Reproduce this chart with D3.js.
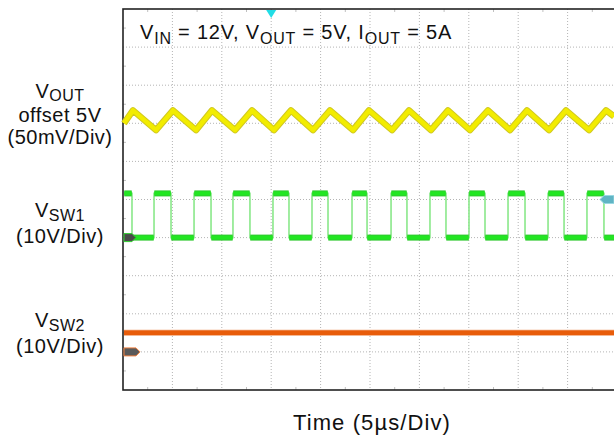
<!DOCTYPE html>
<html><head><meta charset="utf-8">
<script src="https://cdn.jsdelivr.net/npm/d3@7"></script>
<style>body{margin:0;background:#fff} svg{display:block}</style>
</head><body><svg id="c" width="614" height="444"></svg>
<script>
// ---------- data (read from the scope capture) ----------
// time axis: 5 µs/div, 10 divisions
const timeDomain = [0, 50];
const gridDivs = [1, 2, 3, 4, 5, 6, 7, 8, 9];
// VOUT ripple (mV, relative to 5 V offset), vertex times (µs)
const voutTimes  = [0.1, 1.01, 3.34, 5.06, 7.39, 9.01, 11.34, 13.06, 15.28, 17.00, 19.23, 20.95, 23.28, 24.90, 27.23, 28.95, 31.17, 32.89, 35.12, 36.94, 39.17, 40.89, 43.12, 44.84, 47.17, 48.89, 49.7];
const voutRipple = [0, 17, -9, 17, -9, 17, -9, 17, -9, 17, -9, 17, -9, 17, -9, 17, -9, 17, -9, 17, -9, 17, -9, 17, -9, 17, 9];
// VSW1 switching edges (µs) and levels (V)
const sw1Rise = [3.14, 7.19, 11.13, 15.18, 19.13, 23.18, 27.13, 31.07, 35.02, 38.97, 43.02, 46.96];
const sw1Fall = [0.91, 4.86, 8.91, 12.85, 16.80, 20.75, 24.70, 28.74, 32.69, 36.64, 40.69, 44.64, 48.68];
const sw1Levels = [0, 11.6];
// VSW2 level (V)
const sw2Times = [0.1, 50];
const sw2Values = [5, 5];
// channel settings: volts/div and reference position (div from bottom)
const ch1 = {scale: 50, refDiv: 7};   // mV/div
const ch2 = {scale: 10, refDiv: 4};
const ch3 = {scale: 10, refDiv: 1};
const triggerTime = 15;  // µs
const triggerLevel = 10; // V on ch2

// ---------- layout ----------
const svg = d3.select("#c");
const L = 123, R = 617, T = 9, B = 390;
const x = d3.scaleLinear().domain(timeDomain).range([L, R]);
const y = d3.scaleLinear().domain([0, 10]).range([B, T]);
const xd = d3.scaleLinear().domain([0, 10]).range([L, R]);
const font = "'Liberation Sans', Arial, sans-serif";

// grid
const g = svg.append("g");
g.selectAll(".vg").data(gridDivs).enter().append("line")
  .attr("x1", d => xd(d)).attr("x2", d => xd(d)).attr("y1", T).attr("y2", B)
  .attr("stroke", "#b4b4b4").attr("stroke-width", 1).attr("stroke-dasharray", "1,2");
g.selectAll(".hg").data(gridDivs).enter().append("line")
  .attr("y1", d => y(d)).attr("y2", d => y(d)).attr("x1", L).attr("x2", R)
  .attr("stroke", "#b4b4b4").attr("stroke-width", 1).attr("stroke-dasharray", "1,2");
// minor ticks at half divisions
const halves = d3.range(0, 10).map(d => d + 0.5);
g.selectAll(".tb").data(halves).enter().append("line")
  .attr("x1", d => xd(d)).attr("x2", d => xd(d)).attr("y1", B - 3).attr("y2", B)
  .attr("stroke", "#c0c0c0");
g.selectAll(".tt").data(halves).enter().append("line")
  .attr("x1", d => xd(d)).attr("x2", d => xd(d)).attr("y1", T).attr("y2", T + 3)
  .attr("stroke", "#c0c0c0");
g.selectAll(".tl").data(halves).enter().append("line")
  .attr("y1", d => y(d)).attr("y2", d => y(d)).attr("x1", L).attr("x2", L + 3)
  .attr("stroke", "#c0c0c0");

// frame
svg.append("rect").attr("x", L).attr("y", T).attr("width", R - L).attr("height", B - T)
  .attr("fill", "none").attr("stroke", "#222").attr("stroke-width", 1.6);

// VSW2 trace
const l3 = d3.line().x(d => x(d[0])).y(d => y(ch3.refDiv + d[1] / ch3.scale));
const sw2 = sw2Times.map((t, i) => [t, sw2Values[i]]);
svg.append("path").attr("d", l3(sw2)).attr("fill", "none")
  .attr("stroke", "#f0a070").attr("stroke-width", 6);
svg.append("path").attr("d", l3(sw2)).attr("fill", "none")
  .attr("stroke", "#e85c0a").attr("stroke-width", 4.5);

// VSW1 trace
const edges = sw1Rise.map(t => [t, 1]).concat(sw1Fall.map(t => [t, 0])).sort((a, b) => a[0] - b[0]);
let pts = [[0.1, sw1Levels[1]]];
let segs = [];
let cur = sw1Levels[1], start = 0.1;
edges.forEach(e => {
  const nv = sw1Levels[e[1]];
  segs.push([[start, cur], [e[0], cur]]);
  pts.push([e[0], cur], [e[0], nv]);
  cur = nv; start = e[0];
});
segs.push([[start, cur], [50, cur]]);
pts.push([50, cur]);
const l2 = d3.line().x(d => x(d[0])).y(d => y(ch2.refDiv + d[1] / ch2.scale));
svg.append("path").attr("d", l2(pts)).attr("fill", "none")
  .attr("stroke", "#8ae88a").attr("stroke-width", 1.6);
svg.selectAll(".s1").data(segs).enter().append("path")
  .attr("d", d => l2([[d[0][0] + 0.03, d[0][1]], [d[1][0] - 0.03, d[1][1]]])).attr("fill", "none")
  .attr("stroke", "#30c830").attr("stroke-width", 6);
svg.selectAll(".s1b").data(segs).enter().append("path")
  .attr("d", d => l2([[d[0][0] + 0.03, d[0][1]], [d[1][0] - 0.03, d[1][1]]])).attr("fill", "none")
  .attr("stroke", "#22e622").attr("stroke-width", 4);

// VOUT trace
const l1 = d3.line().x(d => x(d[0])).y(d => y(ch1.refDiv + d[1] / ch1.scale));
const vout = voutTimes.map((t, i) => [t, voutRipple[i]]);
svg.append("path").attr("d", l1(vout)).attr("fill", "none")
  .attr("stroke", "#d0c820").attr("stroke-width", 6.5).attr("stroke-linejoin", "round");
svg.append("path").attr("d", l1(vout)).attr("fill", "none")
  .attr("stroke", "#f2ec00").attr("stroke-width", 4.5).attr("stroke-linejoin", "round");

// channel markers
const yG2 = y(ch2.refDiv), yG3 = y(ch3.refDiv);
svg.append("path").attr("d", `M${L+1},${yG2-4}h8l4,4l-4,4h-8z`)
  .attr("fill", "#4a4a4a").attr("stroke", "#30d030").attr("stroke-width", 1);
svg.append("path").attr("d", `M${L+1},${yG3-4}h12l4,4l-4,4h-12z`)
  .attr("fill", "#5a5a5a").attr("stroke", "#f08040").attr("stroke-width", 1);
// trigger markers
const xt = x(triggerTime);
svg.append("path").attr("d", `M${xt-5},${T+1}h10l-5,8z`).attr("fill", "#22dde6");
const yt = y(ch2.refDiv + triggerLevel / ch2.scale);
svg.append("path").attr("d", `M${R-3},${yt-4}h-10l-4,4l4,4h10z`)
  .attr("fill", "#60b4c4").attr("stroke", "#9ad8e2").attr("stroke-width", 1);

// title
const title = svg.append("text").attr("x", 140).attr("y", 39)
  .attr("font-family", font).attr("font-size", 20).attr("fill", "#111").attr("letter-spacing", 0.8);
title.append("tspan").text("V");
title.append("tspan").attr("font-size", 16).attr("dy", 5).text("IN");
title.append("tspan").attr("dy", -5).text(" = 12V, V");
title.append("tspan").attr("font-size", 16).attr("dy", 5).text("OUT");
title.append("tspan").attr("dy", -5).text(" = 5V, I");
title.append("tspan").attr("font-size", 16).attr("dy", 5).text("OUT");
title.append("tspan").attr("dy", -5).text(" = 5A");

// left labels
function label(lines) {
  lines.forEach(l => {
    const t = svg.append("text").attr("x", 60).attr("y", l.y).attr("text-anchor", "middle")
      .attr("font-family", font).attr("font-size", 20).attr("fill", "#111").attr("letter-spacing", 0.5);
    t.append("tspan").text(l.main);
    if (l.sub) t.append("tspan").attr("font-size", 16).attr("dy", l.dy).text(l.sub);
  });
}
label([{y: 98, main: "V", sub: "OUT", dy: 3}, {y: 122, main: "offset 5V"}, {y: 144, main: "(50mV/Div)"}]);
label([{y: 217, main: "V", sub: "SW1", dy: 4}, {y: 243, main: "(10V/Div)"}]);
label([{y: 327, main: "V", sub: "SW2", dy: 4}, {y: 353, main: "(10V/Div)"}]);

// x axis title
svg.append("text").attr("x", 372).attr("y", 430).attr("text-anchor", "middle")
  .attr("font-family", font).attr("font-size", 22).attr("fill", "#111").attr("letter-spacing", 1.1)
  .text("Time (5µs/Div)");
</script></body></html>
